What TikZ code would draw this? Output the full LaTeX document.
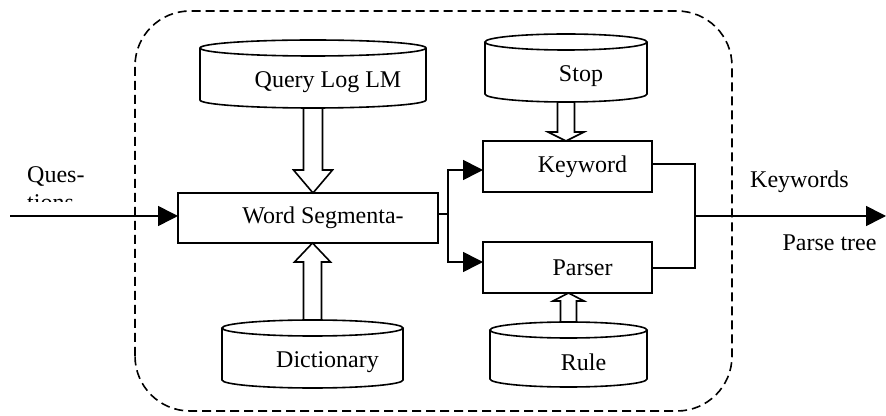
\documentclass[tikz,border=0pt]{standalone}
\usepackage{fontspec}
\setmainfont{Liberation Serif}
\usetikzlibrary{arrows.meta,calc}

\tikzset{
  base/.style={line width=1.6pt},
  txt/.style={font=\fontsize{24}{28}\selectfont},
  procbox/.style={base, txt, draw, minimum width=169pt, minimum height=51pt,
    inner sep=0pt, outer sep=0pt, execute at begin node={\hspace*{30pt}}},
  store/.style={txt, inner sep=0pt, outer sep=0pt,
    execute at begin node={\hspace*{30pt}}},
  arr/.style={base, -{Triangle[length=20pt,width=20pt]}},
  fat/.style={base, line join=miter},
  lbl/.style={txt, inner sep=0pt},
  frame/.style={base, dash pattern=on 9pt off 5pt, rounded corners=55pt},
}

% database drum around a text node: #1 node name, #2 half width (pt)
\newcommand\storedrum[2]{%
  \draw[base] ([yshift=8pt]#1.north west) -- ([yshift=8pt]#1.south west)
    arc[start angle=180,end angle=360,x radius=#2pt,y radius=8pt]
    -- ([yshift=8pt]#1.north east);
  \draw[base] ([yshift=8pt]#1.north) ellipse[x radius=#2pt,y radius=8pt];}

% hollow block arrow: #1 tail, #2 tip, #3 shaft half width, #4 head half width,
% #5 signed head length
\newcommand\fatarrow[5]{%
  \draw[fat] let \p1=(#1), \p2=(#2) in
    ({\x1-#3pt},\y1) -- ({\x1-#3pt},{\y2+(#5pt)}) -- ({\x1-#4pt},{\y2+(#5pt)})
    -- (\x1,\y2) -- ({\x1+#4pt},{\y2+(#5pt)}) -- ({\x1+#3pt},{\y2+(#5pt)})
    -- ({\x1+#3pt},\y1);}

\begin{document}
\begin{tikzpicture}[x=1pt,y=1pt]
  \useasboundingbox (0,0) rectangle (886,415);

  % system boundary
  \draw[frame] (135,4) rectangle (732,404);

  % processing steps
  \node[procbox, minimum width=260pt, minimum height=50pt] (wseg) at (308,197) {Word Segmenta-};
  \node[procbox] (kw) at (567.5,248.5) {Keyword};
  \node[procbox] (ps) at (567.5,147.5) {Parser};

  % resources
  \node[store, minimum width=226pt, minimum height=52pt] (qlog) at (313,333) {Query Log LM};
  \node[store, minimum width=162pt, minimum height=52pt] (stop) at (566,339) {Stop};
  \node[store, minimum width=181pt, minimum height=52pt] (dict) at (312.5,53) {Dictionary};
  \node[store, minimum width=157pt, minimum height=49pt] (rule) at (568.5,52.5) {Rule};
  \storedrum{qlog}{113}
  \storedrum{stop}{81}
  \storedrum{dict}{90.5}
  \storedrum{rule}{78.5}

  % resource feeds
  \fatarrow{qlog.south}{wseg.north}{9.5}{19.5}{23}
  \fatarrow{$(dict.north)+(0,16)$}{wseg.south}{9}{18}{-19}
  \fatarrow{stop.south}{kw.north}{8.5}{18}{9}
  \fatarrow{$(rule.north)+(0,16)$}{ps.south}{8}{15.5}{-8}

  % input
  \coordinate (qin) at (10,199);
  \node[lbl, anchor=base west] (qlab) at (27,232) {Ques-};
  \begin{scope}
    \clip (0,213) rectangle (130,260);
    \node[lbl, anchor=base west] (qlab2) at (27,204) {tions};
  \end{scope}
  \draw[arr] (qin) -- (qin -| wseg.west);

  % split to keyword extraction and parsing
  \coordinate (split) at ($(wseg.east)+(10,4)$);
  \draw[base] (split -| wseg.east) -- (split);
  \draw[arr] (split) |- ([yshift=-3.5pt]kw.west);
  \draw[arr] (split) |- ([yshift=5.5pt]ps.west);

  % merge to output
  \coordinate (merge) at (695,199);
  \coordinate (qout) at (886,199);
  \draw[base] ([yshift=2.5pt]kw.east) -| (merge);
  \draw[base] ([yshift=-0.5pt]ps.east) -| (merge);
  \draw[arr] (merge) -- (qout);
  \node[lbl] (kwlab) at (799.5,233) {Keywords};
  \node[lbl] (ptlab) at (829.5,172) {Parse tree};
\end{tikzpicture}
\end{document}
